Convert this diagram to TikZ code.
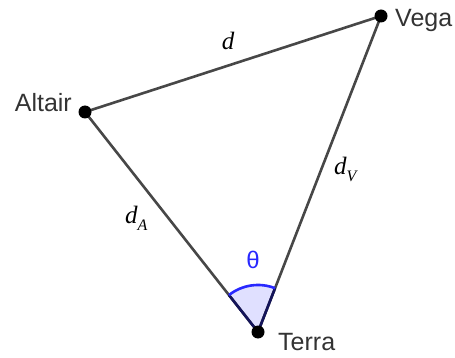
\documentclass[tikz,border=0pt]{standalone}
\usepackage{fontspec}
\setmainfont{Liberation Sans}
\newfontfamily\serfam{Liberation Serif}
\newcommand{\mysub}[1]{\raisebox{-0.25em}{\fontsize{16}{16}\selectfont #1}}
\usetikzlibrary{calc}
\begin{document}
\begin{tikzpicture}[x=1pt,y=-1pt,
  edge/.style={draw=black!72,line width=2.6pt},
  pt/.style={circle,fill=black,inner sep=0pt,minimum size=13pt},
  lbl/.style={inner sep=0pt,font=\fontsize{25}{27}\selectfont,text=black!80},
  mlbl/.style={inner sep=0pt,font=\serfam\itshape\fontsize{25}{27}\selectfont}]
\useasboundingbox (0,0) rectangle (455,358);
\coordinate (A) at (85,112);
\coordinate (V) at (381,16);
\coordinate (T) at (258,332);
\coordinate (sa) at ($(T)!47pt!(A)$);
\coordinate (sv) at ($(T)!47pt!(V)$);
% angle sector
\fill[blue!12] (T) -- (sa) arc[start angle=-128.2,end angle=-68.7,radius=47] -- cycle;
\draw[edge] (A) -- (V) -- (T) -- cycle;
\draw[draw={rgb,255:red,20;green,20;blue,90},line width=2.6pt] (T) -- (sa);
\draw[draw={rgb,255:red,20;green,20;blue,90},line width=2.6pt] (T) -- (sv);
\draw[draw={rgb,255:red,40;green,40;blue,255},line width=2.6pt] (sa) arc[start angle=-128.2,end angle=-68.7,radius=47];
\node[pt] (a) at (A) {};
\node[pt] (v) at (V) {};
\node[pt] (t) at (T) {};
\node[lbl,anchor=base east] (la) at (72,112) {Altair};
\node[lbl,anchor=base west] (lv) at (395,27) {Vega};
\node[lbl,anchor=base west] (lt) at (278,350) {Terra};
\node[mlbl,anchor=base] (ld) at (228,50) {d};
\node[mlbl,anchor=base west] (ldv) at (334,175) {d\mysub{V}};
\node[mlbl,anchor=base west] (lda) at (125,224) {d\mysub{A}};
\node[inner sep=0pt,anchor=base,font=\fontsize{24}{26}\selectfont,text={rgb,255:red,40;green,40;blue,255}] (th) at (253,268) {θ};
\end{tikzpicture}
\end{document}
